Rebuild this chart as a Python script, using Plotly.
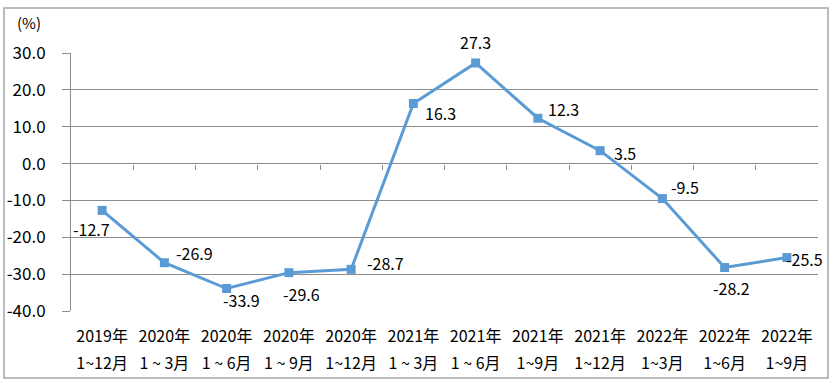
import plotly.graph_objects as go

years = ["2019年", "2020年", "2020年", "2020年", "2020年", "2021年",
         "2021年", "2021年", "2021年", "2022年", "2022年", "2022年"]
periods = ["1~12月", "1 ~ 3月", "1 ~ 6月", "1 ~ 9月", "1~12月", "1 ~ 3月",
           "1 ~ 6月", "1~9月", "1~12月", "1~3月", "1~6月", "1~9月"]
values = [-12.7, -26.9, -33.9, -29.6, -28.7, 16.3, 27.3, 12.3, 3.5, -9.5, -28.2, -25.5]
# label offsets in pixels (x, y up)
label_dx = [-11, 30, 15, 13, 34, 27, 0, 26, 25, 23, 7, 18]
label_dy = [-19, 10, -11, -21, 6, -10, 21, 9, -2, 12, -20, -1]
y_ticks = [30, 20, 10, 0, -10, -20, -30, -40]

FONT = "Noto Sans CJK SC, Microsoft YaHei, sans-serif"
GRID = "#8c8c8c"
FS = 16

x_idx = list(range(len(values)))
x_range = [-0.5, len(values) - 0.5]

L, R, T, B = 71, 16, 53, 79
PW, PH = 834 - L - R, 390 - T - B

fig = go.Figure()
fig.add_trace(go.Scatter(
    x=x_idx, y=values, mode="lines+markers",
    line=dict(color="#5B9BD5", width=3),
    marker=dict(symbol="square", size=9, color="#5B9BD5"),
    cliponaxis=False, showlegend=False, hoverinfo="x+y",
))
for ax in ("x2", "x3"):
    fig.add_trace(go.Scatter(x=x_idx, y=values, xaxis=ax, mode="markers",
                             marker=dict(opacity=0), hoverinfo="skip", showlegend=False))

annotations = [dict(text="(%)", xref="paper", yref="paper",
                    x=(29 - L) / PW, y=1 + (T - 22) / PH,
                    xanchor="center", yanchor="middle", showarrow=False,
                    font=dict(family=FONT, size=FS - 1))]
for xi, v, dx, dy in zip(x_idx, values, label_dx, label_dy):
    annotations.append(dict(x=xi, y=v, xref="x", yref="y", text=f"{v:.1f}",
                            showarrow=False, xanchor="center", yanchor="middle",
                            xshift=dx, yshift=dy,
                            font=dict(family=FONT, size=FS, color="#000000")))

fig.update_layout(
    width=834, height=390,
    margin=dict(l=L, r=R, t=T, b=B, autoexpand=False),
    paper_bgcolor="white", plot_bgcolor="white",
    font=dict(family=FONT, size=FS, color="#000000"),
    xaxis=dict(range=x_range, tickmode="array", tickvals=x_idx, ticktext=years,
               showgrid=False, zeroline=False, showline=False, ticks="",
               ticklabelstandoff=14, automargin=False,
               tickfont=dict(family=FONT, size=FS)),
    xaxis3=dict(overlaying="x", anchor="y", side="bottom", range=x_range,
                tickmode="array", tickvals=x_idx, ticktext=periods,
                showgrid=False, zeroline=False, showline=False, ticks="",
                ticklabelstandoff=41, automargin=False,
                tickfont=dict(family=FONT, size=FS)),
    xaxis2=dict(overlaying="x", anchor="free", position=(0 - (-40)) / 70,
                range=x_range, automargin=False,
                tickmode="array", tickvals=[i + 0.5 for i in x_idx[:-1]],
                showticklabels=False, ticks="outside", ticklen=5, tickcolor=GRID,
                showgrid=False, zeroline=False, showline=False),
    yaxis=dict(range=[-40, 30], tickmode="array", tickvals=y_ticks,
               ticktext=[f"{t:.1f}" for t in y_ticks],
               showgrid=True, gridcolor=GRID, gridwidth=1, zeroline=False,
               showline=True, linecolor=GRID, linewidth=1, automargin=False,
               ticks="outside", ticklen=8, tickcolor=GRID,
               ticklabelstandoff=13,
               tickfont=dict(family=FONT, size=17)),
    shapes=[dict(type="rect", xref="paper", yref="paper",
                 x0=(4 - L) / PW, x1=(828 - L) / PW,
                 y0=-(378 - (T + PH)) / PH, y1=1 + (T - 8) / PH,
                 line=dict(color="#a6a6a6", width=1.5))],
    annotations=annotations,
)

fig.write_html("out.html", config={"displayModeBar": False},
               post_script="document.body.style.margin='0';document.body.style.overflow='hidden';")
